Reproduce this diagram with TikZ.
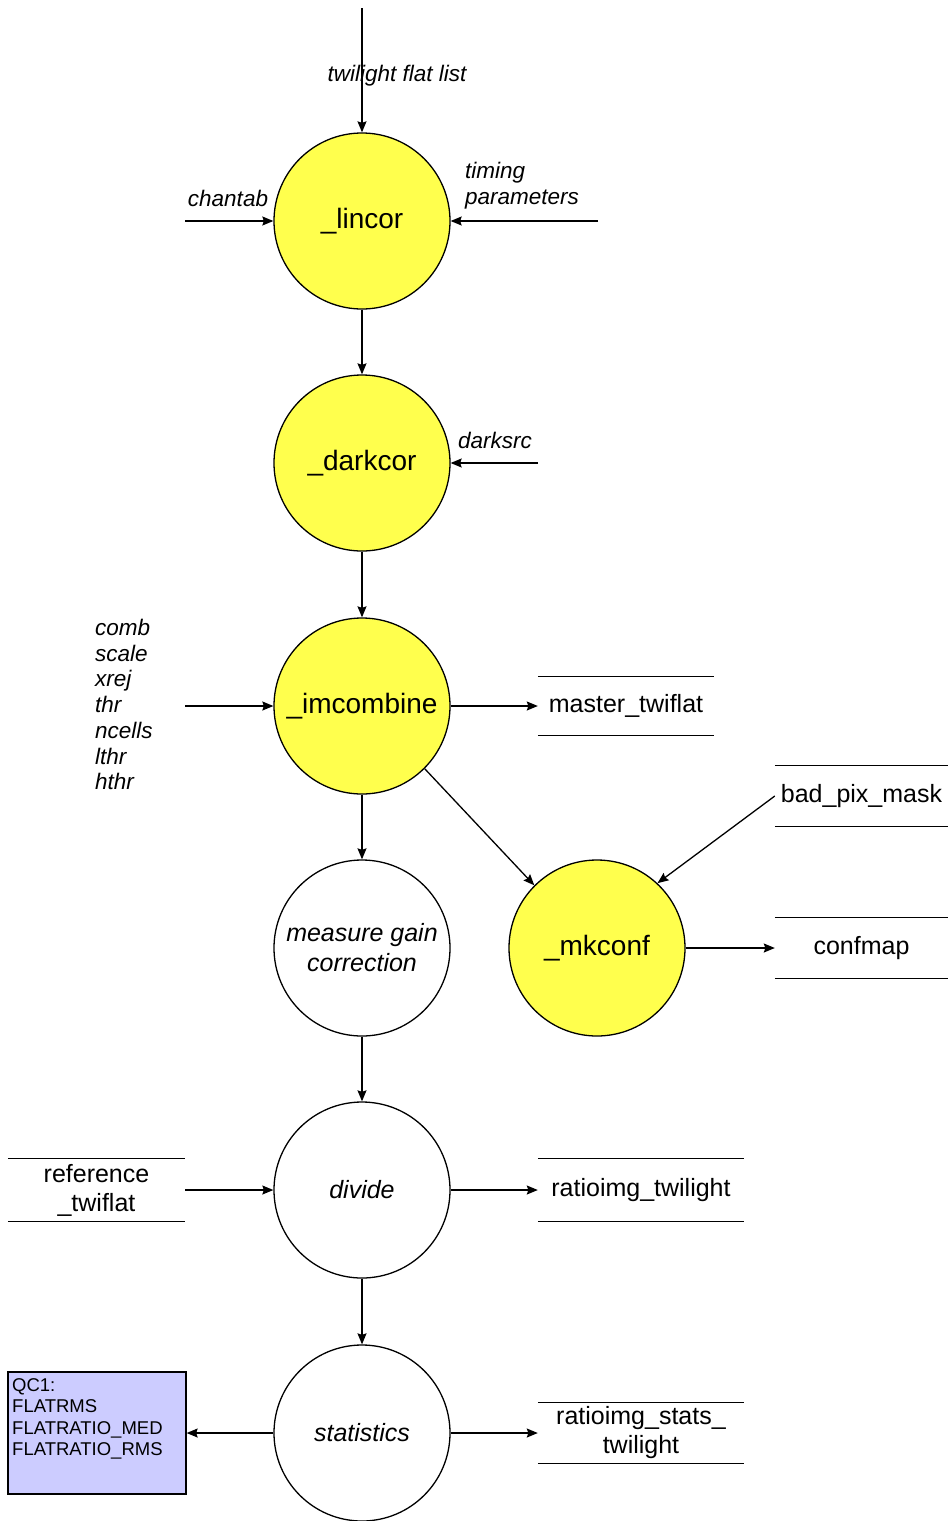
\documentclass[tikz,border=0pt]{standalone}
\usepackage{fontspec}
\setmainfont{Liberation Sans}
\usetikzlibrary{arrows.meta}
\definecolor{procyellow}{RGB}{255,255,77}
\definecolor{qcblue}{RGB}{204,204,255}
\tikzset{
  proc/.style={circle, draw=black, line width=1.3pt, minimum size=176pt, inner sep=0pt, font=\fontsize{28}{30}\selectfont},
  yproc/.style={proc, fill=procyellow},
  wproc/.style={proc, fill=white, font=\fontsize{25}{30}\selectfont\itshape},
  flow/.style={line width=1.3pt, -{Stealth[length=11pt,width=9pt,inset=1.5pt]}},
  param/.style={inner sep=0pt, font=\fontsize{22.5}{25.7}\selectfont\itshape},
  store/.style={inner sep=0pt, align=center, font=\fontsize{25}{29}\selectfont},
  storeline/.style={line width=1.3pt}
}
\newcommand{\storelines}[1]{%
  \draw[storeline] (#1.north west) -- (#1.north east);
  \draw[storeline] (#1.south west) -- (#1.south east);}
\begin{document}
\begin{tikzpicture}[x=1pt, y=-1pt]
\useasboundingbox (0,0) rectangle (948,1521);

% processes
\node[yproc] (lincor)    at (362,221)  {\_lincor};
\node[yproc] (darkcor)   at (362,463)  {\_darkcor};
\node[yproc] (imcombine) at (362,706)  {\_imcombine};
\node[wproc, align=center] (gain) at (362,948) {measure gain\\correction};
\node[yproc] (mkconf)    at (597,948)  {\_mkconf};
\node[wproc] (divide)    at (362,1190) {divide};
\node[wproc] (stats)     at (362,1433) {statistics};

% data stores
\node[store, minimum width=176pt, minimum height=59pt] (master) at (626,706) {master\_twiflat};
\node[store, minimum width=173pt, minimum height=60pt] (badpix) at (861.5,796) {bad\_pix\_mask};
\node[store, minimum width=173pt, minimum height=60pt] (confmap) at (861.5,948) {confmap};
\node[store, minimum width=177pt, minimum height=62pt] (refflat) at (96.5,1190) {reference\\\_twiflat};
\node[store, minimum width=206pt, minimum height=62pt] (ratioimg) at (641,1190) {ratioimg\_twilight};
\node[store, minimum width=206pt, minimum height=60pt] (ratiostats) at (641,1433) {ratioimg\_stats\_\\twilight};
\storelines{master}
\storelines{badpix}
\storelines{confmap}
\storelines{refflat}
\storelines{ratioimg}
\storelines{ratiostats}

% QC1 parameters
\node[draw=black, line width=1.3pt, fill=qcblue, minimum width=178pt, minimum height=122pt, inner sep=0pt] (qc) at (97,1433) {};
\node[anchor=north west, inner sep=0pt, align=left, font=\fontsize{18.5}{21.5}\selectfont] (qctext) at (12,1378)
  {QC1:\\FLATRMS\\FLATRATIO\_MED\\FLATRATIO\_RMS};

% free ends of input arrows
\coordinate (twin)  at (362,8);
\coordinate (chin)  at (185,221);
\coordinate (tmin)  at (598,221);
\coordinate (dkin)  at (538,463);
\coordinate (prin)  at (185,706);

% input labels
\node[param] (twlab) at (397,76) {twilight flat list};
\node[param] (chlab) at (228,198) {chantab};
\node[param, anchor=west, align=left] (tmlab) at (465,186) {timing\\parameters};
\node[param] (dklab) at (495,440) {darksrc};
\node[param, anchor=north west, align=left] (prlab) at (95,619)
  {comb\\scale\\xrej\\thr\\ncells\\lthr\\hthr};

% flows
\draw[flow] (twin) -- (lincor);
\draw[flow] (chin) -- (lincor);
\draw[flow] (tmin) -- (lincor);
\draw[flow] (lincor) -- (darkcor);
\draw[flow] (dkin) -- (darkcor);
\draw[flow] (darkcor) -- (imcombine);
\draw[flow] (prin) -- (imcombine);
\draw[flow] (imcombine) -- (master);
\draw[flow] (imcombine) -- (gain);
\draw[flow] (imcombine.-45) -- (mkconf.135);
\draw[flow] (badpix.west) -- (mkconf.47);
\draw[flow] (mkconf) -- (confmap);
\draw[flow] (gain) -- (divide);
\draw[flow] (refflat) -- (divide);
\draw[flow] (divide) -- (ratioimg);
\draw[flow] (divide) -- (stats);
\draw[flow] (stats) -- (qc);
\draw[flow] (stats) -- (ratiostats);
\end{tikzpicture}
\end{document}
